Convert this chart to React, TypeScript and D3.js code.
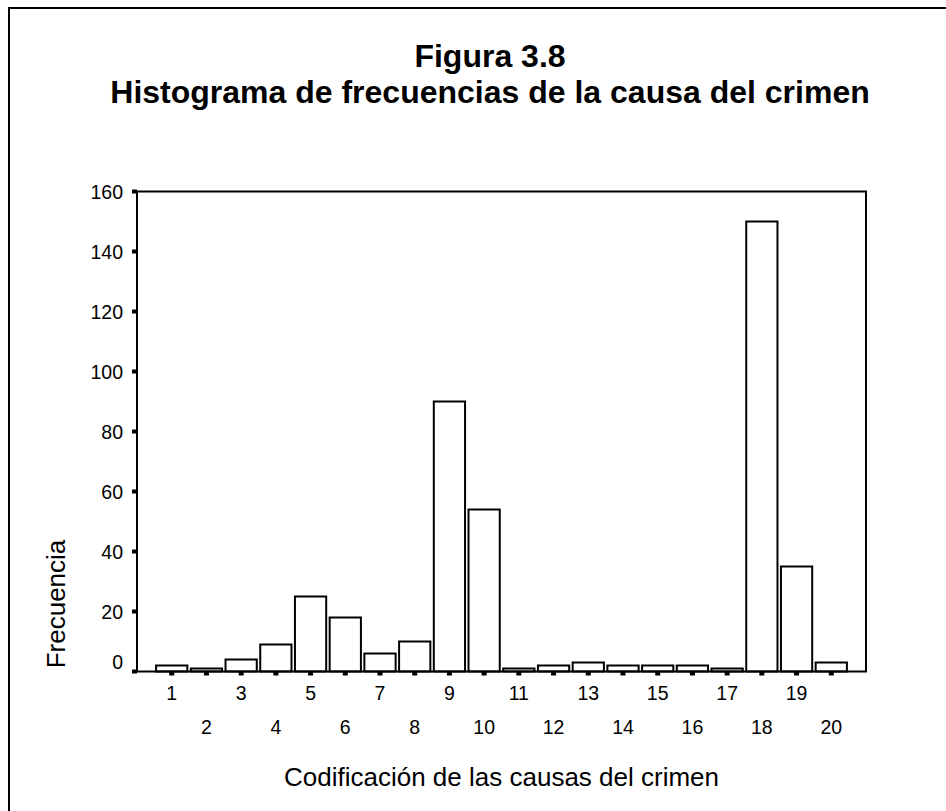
import * as d3 from "d3";

const categorias = [1, 2, 3, 4, 5, 6, 7, 8, 9, 10, 11, 12, 13, 14, 15, 16, 17, 18, 19, 20];
const frecuencias = [2, 1, 4, 9, 25, 18, 6, 10, 90, 54, 1, 2, 3, 2, 2, 2, 1, 150, 35, 3];
const yTicks = [0, 20, 40, 60, 80, 100, 120, 140, 160];

const titulo1 = "Figura 3.8";
const titulo2 = "Histograma de frecuencias de la causa del crimen";
const ejeX = "Codificación de las causas del crimen";
const ejeY = "Frecuencia";

export default function App() {
  const width = 946;
  const height = 811;
  const left = 137;
  const right = 866;
  const top = 191.5;
  const bottom = 671.5;
  const font = "Arial, 'Liberation Sans', sans-serif";

  const x = d3.scaleBand<number>()
    .domain(categorias)
    .range([left, right])
    .paddingInner(0.1)
    .paddingOuter(0.55);

  const y = d3.scaleLinear().domain([0, 160]).range([bottom, top]);

  return (
    <svg
      width={width}
      height={height}
      style={{ position: "absolute", left: 0, top: 0, background: "#fff" }}
      fontFamily={font}
    >
      <rect x={9} y={8} width={1000} height={900} fill="#fff" stroke="#000" strokeWidth={2} />

      <text x={490} y={67} textAnchor="middle" fontSize={32} fontWeight="bold">{titulo1}</text>
      <text x={490} y={103} textAnchor="middle" fontSize={32} fontWeight="bold">{titulo2}</text>

      {categorias.map((c, i) => (
        <rect
          key={c}
          x={x(c)!}
          y={y(frecuencias[i])}
          width={x.bandwidth()}
          height={bottom - y(frecuencias[i])}
          fill="#fff"
          stroke="#000"
          strokeWidth={2}
        />
      ))}

      <rect x={left} y={top} width={right - left} height={bottom - top} fill="none" stroke="#000" strokeWidth={2} />

      {yTicks.map(t => (
        <g key={t}>
          <rect x={left - 5} y={y(t) - 2} width={5} height={4} fill="#000" />
          {/* the 0 label sits a little above its tick, as in the original */}
          <text x={left - 14} y={y(t) + 7 - (t === 0 ? 10 : 0)} textAnchor="end" fontSize={19.5}>{t}</text>
        </g>
      ))}

      {categorias.map(c => {
        const cx = x(c)! + x.bandwidth() / 2;
        return (
          <g key={c}>
            <rect x={cx - 2.5} y={bottom} width={5} height={4} fill="#000" />
            <text x={cx} y={c % 2 === 1 ? 700 : 734} textAnchor="middle" fontSize={19.5}>{c}</text>
          </g>
        );
      })}

      <text x={(left + right) / 2} y={786} textAnchor="middle" fontSize={26}>{ejeX}</text>
      <text
        transform={`translate(65,604) rotate(-90)`}
        textAnchor="middle"
        fontSize={26}
      >{ejeY}</text>
    </svg>
  );
}
